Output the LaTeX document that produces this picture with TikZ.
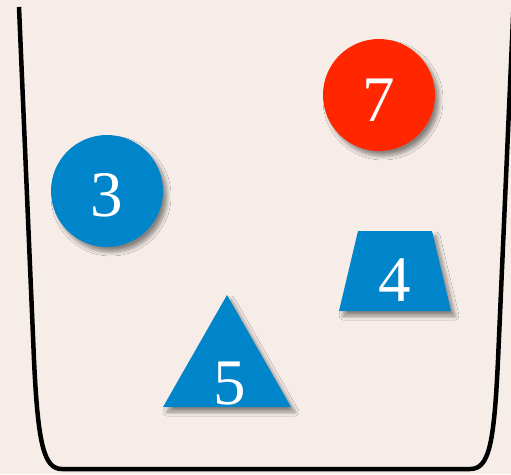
\documentclass[tikz,border=0pt]{standalone}
\usepackage{fontspec}
\setmainfont{Liberation Serif}
\usepackage{tikz}
\usetikzlibrary{shadows.blur}
\usepackage{xcolor}
\definecolor{paper}{RGB}{247, 237, 232}
\definecolor{ballblue}{RGB}{0, 133, 202}
\definecolor{ballred}{RGB}{255, 38, 0}

\begin{document}
\begin{tikzpicture}[x=1pt, y=-1pt,
  piece/.style={blur shadow={shadow xshift=4pt, shadow yshift=-5pt, shadow blur steps=8, shadow blur radius=4pt, shadow opacity=45}},
  digit/.style={text=white, inner sep=0pt, font=\fontsize{65}{65}\selectfont}]
  % 统一边界框
  \useasboundingbox (0,0) rectangle (511,474);

  % 背景纸
  \fill[paper] (0,0) rectangle (511,474);

  % 杯子
  \draw[line width=4.5pt, line join=round] (19,7) -- (34,360)
    .. controls (38,445) and (44,469) .. (62,469) -- (470,469)
    .. controls (489,469) and (494,445) .. (498,360) -- (514,-5);

  % 圆球
  \fill[ballblue, piece] (107,191) circle (56);
  \fill[ballred, piece] (379,95) circle (56);

  % 梯形
  \fill[ballblue, piece] (358,231) -- (432,231) -- (451,311) -- (339,311) -- cycle;

  % 三角形
  \fill[ballblue, piece] (227,295) -- (291,407) -- (163,407) -- cycle;

  % 数字
  \node[digit] (n3) at (107,195) {3};
  \node[digit] (n7) at (379,100) {7};
  \node[digit] (n4) at (395,280) {4};
  \node[digit] (n5) at (230,384) {5};
\end{tikzpicture}
\end{document}
